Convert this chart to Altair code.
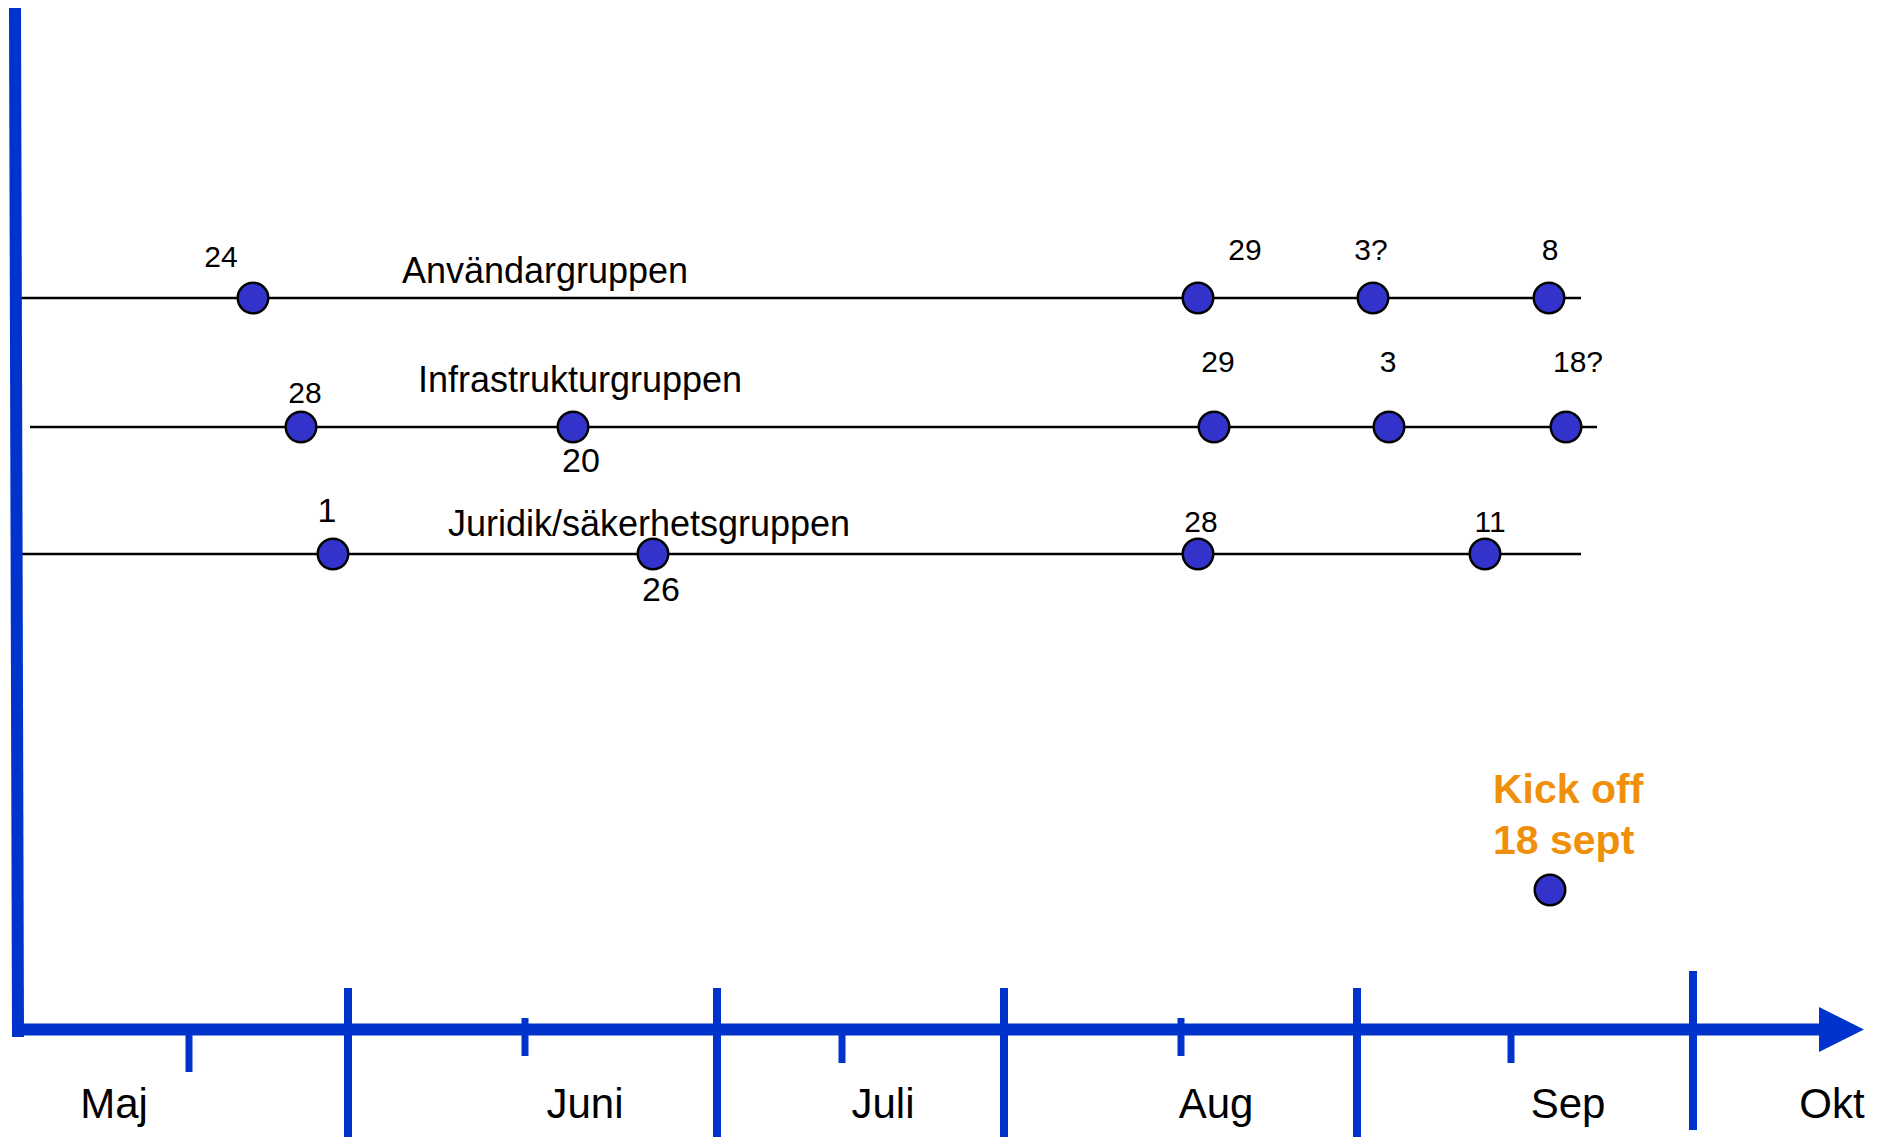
import altair as alt
import pandas as pd

# ---------------- data (positions, in picture pixels) -------------
months = ["Maj", "Juni", "Juli", "Aug", "Sep", "Okt"]
month_label_x = [114, 585, 883, 1216, 1568, 1832]

month_boundary_x = [348, 717, 1004, 1357, 1693]
month_boundary_top = [988, 988, 988, 988, 971]
month_boundary_bottom = [1145, 1145, 1145, 1145, 1130]

mid_month_x = [189, 525, 842, 1181, 1511]
mid_month_top = [1029, 1018, 1029, 1018, 1029]
mid_month_bottom = [1072, 1056, 1063, 1056, 1063]

groups = ["Användargruppen", "Infrastrukturgruppen", "Juridik/säkerhetsgruppen"]
group_y = [298, 427, 554]
group_line_start = [21, 30, 13]
group_line_end = [1581, 1597, 1581]
group_label_x = [545, 580, 649]
group_label_y = [283, 392, 536]

# meetings per group
anv_x = [253, 1198, 1373, 1549]
anv_day = ["24", "29", "3?", "8"]
anv_label_x = [221, 1245, 1371, 1550]
anv_label_y = [267, 260, 260, 260]
anv_big = [False, False, False, False]

inf_x = [301, 573, 1214, 1389, 1566]
inf_day = ["28", "20", "29", "3", "18?"]
inf_label_x = [305, 581, 1218, 1388, 1578]
inf_label_y = [403, 472, 372, 372, 372]
inf_big = [False, True, False, False, False]

jur_x = [333, 653, 1198, 1485]
jur_day = ["1", "26", "28", "11"]
jur_label_x = [327, 661, 1201, 1490]
jur_label_y = [522, 601, 532, 532]
jur_big = [True, True, False, False]

kickoff_x = [1550]
kickoff_y = [890]
kickoff_text = ["Kick off", "18 sept"]
kickoff_text_y = [803, 854]
kickoff_text_x = [1493, 1493]

# ---------------- tables ----------------
AXIS_BLUE = "#0033CC"
DOT_BLUE = "#3333CC"
ORANGE = "#F0900A"
FONT = "Liberation Sans"

xs = alt.Scale(domain=[8, 1876], nice=False, zero=False)
ys = alt.Scale(domain=[8, 1137], nice=False, zero=False, reverse=True)

def X(f):
    return alt.X(f, type="quantitative", scale=xs, axis=None)

def Y(f):
    return alt.Y(f, type="quantitative", scale=ys, axis=None)

lines_df = pd.DataFrame({"x1": group_line_start, "x2": group_line_end, "y": group_y})
dots_df = pd.DataFrame({
    "x": anv_x + inf_x + jur_x + kickoff_x,
    "y": [group_y[0]] * len(anv_x) + [group_y[1]] * len(inf_x) + [group_y[2]] * len(jur_x) + kickoff_y,
})
days_df = pd.DataFrame({
    "label": anv_day + inf_day + jur_day,
    "x": anv_label_x + inf_label_x + jur_label_x,
    "y": anv_label_y + inf_label_y + jur_label_y,
    "big": anv_big + inf_big + jur_big,
})
group_df = pd.DataFrame({"label": groups, "x": group_label_x, "y": group_label_y})
month_df = pd.DataFrame({"label": months, "x": month_label_x, "y": [1118] * len(months)})
major_df = pd.DataFrame({"x": month_boundary_x, "y1": month_boundary_top, "y2": month_boundary_bottom})
minor_df = pd.DataFrame({"x": mid_month_x, "y1": mid_month_top, "y2": mid_month_bottom})
vaxis_df = pd.DataFrame({"x1": [15], "y1": [7], "x2": [18], "y2": [1037]})
haxis_df = pd.DataFrame({"x1": [12], "x2": [1822], "y": [1029.5]})
arrow_df = pd.DataFrame({"x": [1841.5], "y": [1029.5]})
kick_df = pd.DataFrame({"label": kickoff_text, "x": kickoff_text_x, "y": kickoff_text_y})

# ---------------- layers ----------------
row_lines = alt.Chart(lines_df).mark_rule(color="black", strokeWidth=2.5).encode(
    x=X("x1"), x2="x2", y=Y("y"))

v_axis = alt.Chart(vaxis_df).mark_rule(color=AXIS_BLUE, strokeWidth=12).encode(
    x=X("x1"), y=Y("y1"), x2="x2", y2="y2")
h_axis = alt.Chart(haxis_df).mark_rule(color=AXIS_BLUE, strokeWidth=12).encode(
    x=X("x1"), x2="x2", y=Y("y"))
major_ticks = alt.Chart(major_df).mark_rule(color=AXIS_BLUE, strokeWidth=8).encode(
    x=X("x"), y=Y("y1"), y2="y2")
minor_ticks = alt.Chart(minor_df).mark_rule(color=AXIS_BLUE, strokeWidth=7).encode(
    x=X("x"), y=Y("y1"), y2="y2")
arrow = alt.Chart(arrow_df).mark_point(
    shape="M-1,-1L1,0L-1,1Z", size=2025, filled=True, color=AXIS_BLUE, opacity=1, strokeWidth=0
).encode(x=X("x"), y=Y("y"))

dots = alt.Chart(dots_df).mark_point(
    shape="circle", size=930, filled=True, fill=DOT_BLUE, stroke="black", strokeWidth=2.5, opacity=1
).encode(x=X("x"), y=Y("y"))

day_small = alt.Chart(days_df[~days_df["big"]]).mark_text(
    font=FONT, fontSize=30, color="black", align="center", baseline="alphabetic"
).encode(x=X("x"), y=Y("y"), text="label:N")
day_big = alt.Chart(days_df[days_df["big"]]).mark_text(
    font=FONT, fontSize=34, color="black", align="center", baseline="alphabetic"
).encode(x=X("x"), y=Y("y"), text="label:N")

group_text = alt.Chart(group_df).mark_text(
    font=FONT, fontSize=36, color="black", align="center", baseline="alphabetic"
).encode(x=X("x"), y=Y("y"), text="label:N")

month_text = alt.Chart(month_df).mark_text(
    font=FONT, fontSize=42, color="black", align="center", baseline="alphabetic"
).encode(x=X("x"), y=Y("y"), text="label:N")

kick_text = alt.Chart(kick_df).mark_text(
    font=FONT, fontSize=41, fontWeight="bold", color=ORANGE, align="left", baseline="alphabetic"
).encode(x=X("x"), y=Y("y"), text="label:N")

chart = alt.layer(
    row_lines, major_ticks, minor_ticks, v_axis, h_axis, arrow,
    dots, day_small, day_big, group_text, month_text, kick_text
).properties(
    width=1868, height=1129,
    autosize=alt.AutoSizeParams(type="none"),
    padding=0,
    background="white",
).configure_view(stroke=None)

chart.save("out.html", embed_options={"renderer": "svg", "actions": False})
